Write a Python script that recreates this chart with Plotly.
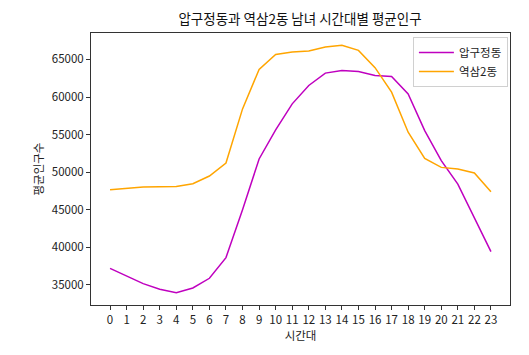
import plotly.graph_objects as go

hours = list(range(24))
hour_labels = [str(h) for h in hours]
apgujeong = [37200, 36150, 35180, 34420, 33980, 34600, 35890, 38640, 45000, 51760,
             55620, 59090, 61530, 63180, 63530, 63400, 62870, 62730, 60420, 55530,
             51530, 48420, 43980, 39440]
yeoksam2 = [47670, 47890, 48020, 48070, 48110, 48470, 49490, 51220, 58420, 63670,
            65670, 65980, 66110, 66640, 66870, 66200, 63900, 60640, 55310, 51840,
            50640, 50420, 49890, 47400]
y_ticks = [35000, 40000, 45000, 50000, 55000, 60000, 65000]

FONT = "Noto Sans CJK KR"

fig = go.Figure()
fig.add_trace(go.Scatter(x=hours, y=apgujeong, mode="lines", name="압구정동",
                         line=dict(color="#bf00bf", width=1.5)))
fig.add_trace(go.Scatter(x=hours, y=yeoksam2, mode="lines", name="역삼2동",
                         line=dict(color="#ffa500", width=1.5)))

ymin = min(min(apgujeong), min(yeoksam2))
ymax = max(max(apgujeong), max(yeoksam2))
pad = (ymax - ymin) * 0.05

fig.update_layout(
    width=521, height=347,
    margin=dict(l=83, r=19, t=25, b=50),
    paper_bgcolor="white", plot_bgcolor="white",
    font=dict(family=FONT, size=11, color="#222"),
    title=dict(text="압구정동과 역삼2동 남녀 시간대별 평균인구", x=0.5605, xanchor="center",
               y=0.968, yanchor="middle", font=dict(size=13.5, color="#111")),
    showlegend=True,
    legend=dict(x=0.995, y=0.985, xanchor="right", yanchor="top",
                bgcolor="rgba(255,255,255,0.8)", bordercolor="#d0d0d0", borderwidth=1,
                font=dict(size=11.5, color="#222"), itemwidth=35),
    xaxis=dict(range=[-1.15, 24.15], tickmode="array", tickvals=hours, ticktext=hour_labels,
               showgrid=False, zeroline=False, showline=True, mirror=True,
               linecolor="#333", linewidth=1, ticks="outside", ticklen=4, tickcolor="#333",
               tickfont=dict(size=11.5),
               title=dict(text="시간대", font=dict(size=11.5), standoff=5)),
    yaxis=dict(range=[ymin - pad, ymax + pad], tickmode="array", tickvals=y_ticks,
               ticktext=[str(v) for v in y_ticks],
               showgrid=False, zeroline=False, showline=True, mirror=True,
               linecolor="#333", linewidth=1, ticks="outside", ticklen=4, tickcolor="#333",
               tickfont=dict(size=11.5),
               title=dict(text="평균인구수", font=dict(size=11.5), standoff=5)),
)

fig.write_html("out.html")
